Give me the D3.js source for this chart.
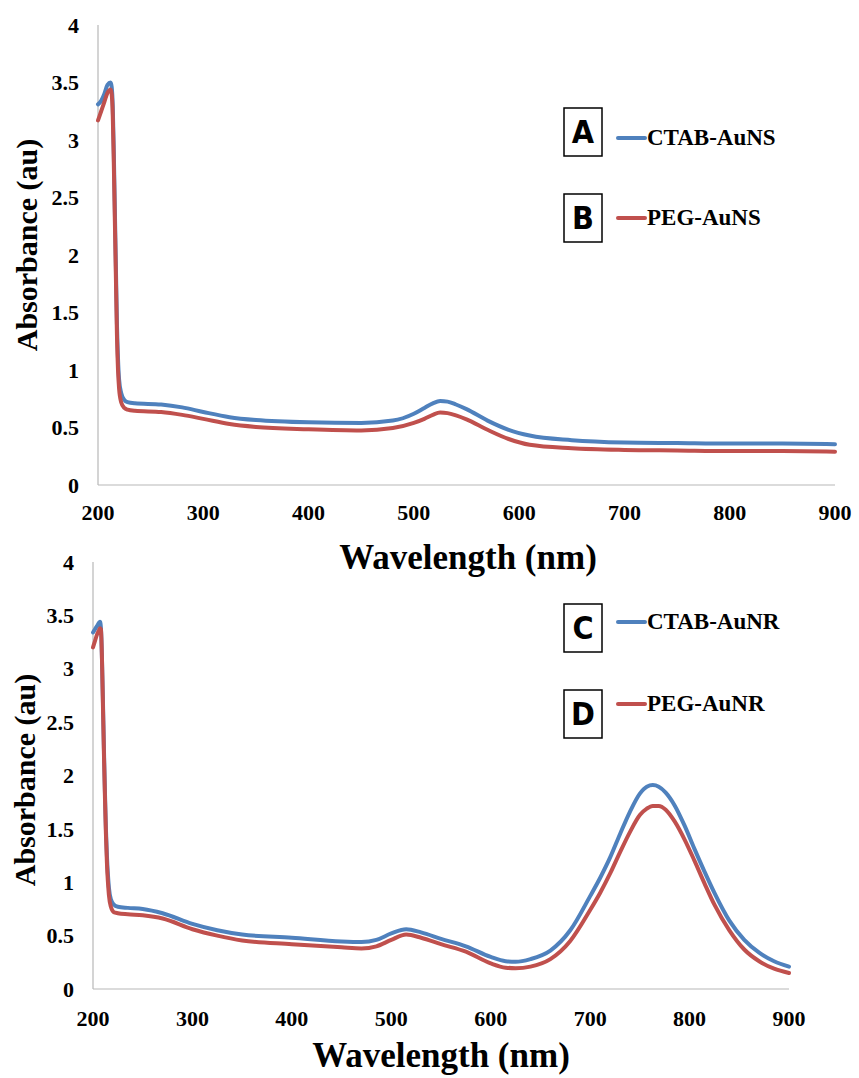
<!DOCTYPE html>
<html>
<head>
<meta charset="utf-8">
<script src="https://cdn.jsdelivr.net/npm/d3@7"></script>
<style>
  html, body { margin: 0; padding: 0; background: #fff; }
  svg { display: block; }
</style>
</head>
<body>
<svg id="chart" width="859" height="1078"></svg>
<script>
// ---- Panel 1: gold nanospheres ----
const wlNS = [200, 203, 206, 209, 212, 213, 214, 215, 216, 217, 218, 219, 220, 222, 225, 228, 235, 260, 280, 300, 325, 350, 400, 450, 480, 500, 510, 518, 525, 532, 540, 550, 570, 590, 610, 650, 700, 750, 800, 850, 900];
const ctabNS = [3.31, 3.34, 3.40, 3.48, 3.50, 3.46, 3.30, 2.90, 2.40, 1.90, 1.40, 1.10, 0.92, 0.80, 0.74, 0.72, 0.71, 0.70, 0.675, 0.635, 0.59, 0.565, 0.545, 0.54, 0.56, 0.62, 0.67, 0.71, 0.73, 0.725, 0.70, 0.66, 0.56, 0.48, 0.43, 0.39, 0.37, 0.365, 0.36, 0.36, 0.355];
const pegNS  = [3.17, 3.25, 3.33, 3.41, 3.44, 3.40, 3.22, 2.80, 2.30, 1.80, 1.30, 1.00, 0.84, 0.72, 0.67, 0.655, 0.645, 0.635, 0.61, 0.575, 0.53, 0.505, 0.485, 0.475, 0.495, 0.54, 0.575, 0.61, 0.63, 0.625, 0.605, 0.57, 0.48, 0.40, 0.35, 0.32, 0.305, 0.30, 0.295, 0.295, 0.29];
const namesNS = ["CTAB-AuNS", "PEG-AuNS"];
const tagsNS = ["A", "B"];

// ---- Panel 2: gold nanorods ----
const wlNR = [200, 202, 204, 206, 207, 208, 209, 210, 211, 212, 213, 214, 216, 218, 221, 225, 235, 250, 270, 300, 325, 350, 400, 450, 470, 485, 500, 515, 530, 550, 575, 600, 615, 625, 640, 660, 680, 700, 710, 720, 730, 740, 750, 757, 763, 769, 776, 785, 795, 805, 815, 825, 840, 855, 870, 885, 900];
const ctabNR = [3.34, 3.37, 3.40, 3.43, 3.44, 3.38, 3.10, 2.70, 2.25, 1.85, 1.50, 1.25, 0.95, 0.84, 0.79, 0.77, 0.76, 0.75, 0.71, 0.61, 0.55, 0.51, 0.48, 0.445, 0.44, 0.46, 0.52, 0.56, 0.53, 0.47, 0.40, 0.30, 0.26, 0.255, 0.28, 0.36, 0.55, 0.87, 1.04, 1.23, 1.45, 1.66, 1.83, 1.895, 1.91, 1.895, 1.84, 1.72, 1.53, 1.31, 1.10, 0.90, 0.64, 0.46, 0.34, 0.26, 0.21];
const pegNR  = [3.20, 3.26, 3.32, 3.36, 3.38, 3.37, 3.10, 2.65, 2.20, 1.80, 1.45, 1.18, 0.88, 0.77, 0.72, 0.71, 0.70, 0.69, 0.66, 0.56, 0.50, 0.455, 0.42, 0.39, 0.38, 0.40, 0.46, 0.51, 0.48, 0.42, 0.35, 0.24, 0.20, 0.195, 0.21, 0.28, 0.45, 0.74, 0.90, 1.08, 1.28, 1.47, 1.63, 1.69, 1.715, 1.715, 1.68, 1.57, 1.40, 1.20, 0.99, 0.79, 0.55, 0.37, 0.26, 0.19, 0.15];
const namesNR = ["CTAB-AuNR", "PEG-AuNR"];
const tagsNR = ["C", "D"];

// shared axis ticks
const xTicks = [200, 300, 400, 500, 600, 700, 800, 900];
const yTicks = [0, 0.5, 1, 1.5, 2, 2.5, 3, 3.5, 4];
const colors = ["#4F81BD", "#C0504D"];

const svg = d3.select("#chart");
const serif = "'Liberation Serif', 'Times New Roman', serif";
const sans = "'Liberation Sans Narrow', 'DejaVu Sans Condensed', 'Noto Sans', sans-serif";

function drawPanel(cfg) {
  const x = d3.scaleLinear().domain([200, 900]).range([cfg.left, cfg.right]);
  const y = d3.scaleLinear().domain([0, 4]).range([cfg.bottom, cfg.top]);
  const g = svg.append("g");

  // axis lines
  g.append("line")
    .attr("x1", x(200)).attr("x2", x(200))
    .attr("y1", y(4)).attr("y2", y(0))
    .attr("stroke", "#b8b8b8").attr("stroke-width", 1.2);
  g.append("line")
    .attr("x1", x(200)).attr("x2", x(900))
    .attr("y1", y(0)).attr("y2", y(0))
    .attr("stroke", "#b8b8b8").attr("stroke-width", 1.2);

  // tick labels
  g.selectAll(".yt").data(yTicks).enter().append("text")
    .attr("x", x(200) - 19).attr("y", d => y(d))
    .attr("dy", "0.35em").attr("text-anchor", "end")
    .attr("font-family", serif).attr("font-weight", "bold").attr("font-size", 22)
    .text(d => d);
  g.selectAll(".xt").data(xTicks).enter().append("text")
    .attr("x", d => x(d)).attr("y", cfg.xLabelY)
    .attr("dy", "0.35em").attr("text-anchor", "middle")
    .attr("font-family", serif).attr("font-weight", "bold").attr("font-size", 22)
    .text(d => d);

  // axis titles
  g.append("text")
    .attr("x", cfg.xTitleX).attr("y", cfg.xTitleY)
    .attr("text-anchor", "middle")
    .attr("font-family", serif).attr("font-weight", "bold").attr("font-size", 35)
    .text("Wavelength (nm)");
  g.append("text")
    .attr("transform", `translate(${cfg.yTitleX},${cfg.yTitleY}) rotate(-90)`)
    .attr("text-anchor", "middle")
    .attr("font-family", serif).attr("font-weight", "bold").attr("font-size", 30)
    .text("Absorbance (au)");

  // spectra
  const line = d3.line()
    .x((d, i) => x(cfg.wl[i]))
    .y(d => y(d))
    .curve(d3.curveMonotoneX);
  cfg.series.forEach((s, k) => {
    g.append("path")
      .attr("d", line(s))
      .attr("fill", "none")
      .attr("stroke", colors[k])
      .attr("stroke-width", 4)
      .attr("stroke-linejoin", "round")
      .attr("stroke-linecap", "round");
  });

  // legend with letter tags
  cfg.names.forEach((name, k) => {
    const ly = cfg.legendY[k];
    g.append("rect")
      .attr("x", 564).attr("y", ly - 24)
      .attr("width", 38).attr("height", 48)
      .attr("fill", "#fff").attr("stroke", "#000").attr("stroke-width", 1.5);
    g.append("text")
      .attr("x", 583).attr("y", ly + 11)
      .attr("text-anchor", "middle")
      .attr("font-family", sans).attr("font-weight", "bold").attr("font-size", 32)
      .text(cfg.tags[k]);
    g.append("line")
      .attr("x1", 618).attr("x2", 645)
      .attr("y1", cfg.sampleY[k]).attr("y2", cfg.sampleY[k])
      .attr("stroke", colors[k]).attr("stroke-width", 4)
      .attr("stroke-linecap", "round");
    g.append("text")
      .attr("x", 647).attr("y", cfg.sampleY[k] + 7)
      .attr("font-family", serif).attr("font-weight", "bold").attr("font-size", 23)
      .text(name);
  });
}

drawPanel({
  left: 98, right: 835, top: 25, bottom: 485,
  wl: wlNS, series: [ctabNS, pegNS], names: namesNS, tags: tagsNS,
  xLabelY: 512, xTitleX: 468, xTitleY: 569,
  yTitleX: 37, yTitleY: 245,
  legendY: [132, 218], sampleY: [138, 218]
});

drawPanel({
  left: 93, right: 789, top: 562, bottom: 989,
  wl: wlNR, series: [ctabNR, pegNR], names: namesNR, tags: tagsNR,
  xLabelY: 1018, xTitleX: 441, xTitleY: 1067,
  yTitleX: 35, yTitleY: 780,
  legendY: [628, 714], sampleY: [622, 704]
});
</script>
</body>
</html>
